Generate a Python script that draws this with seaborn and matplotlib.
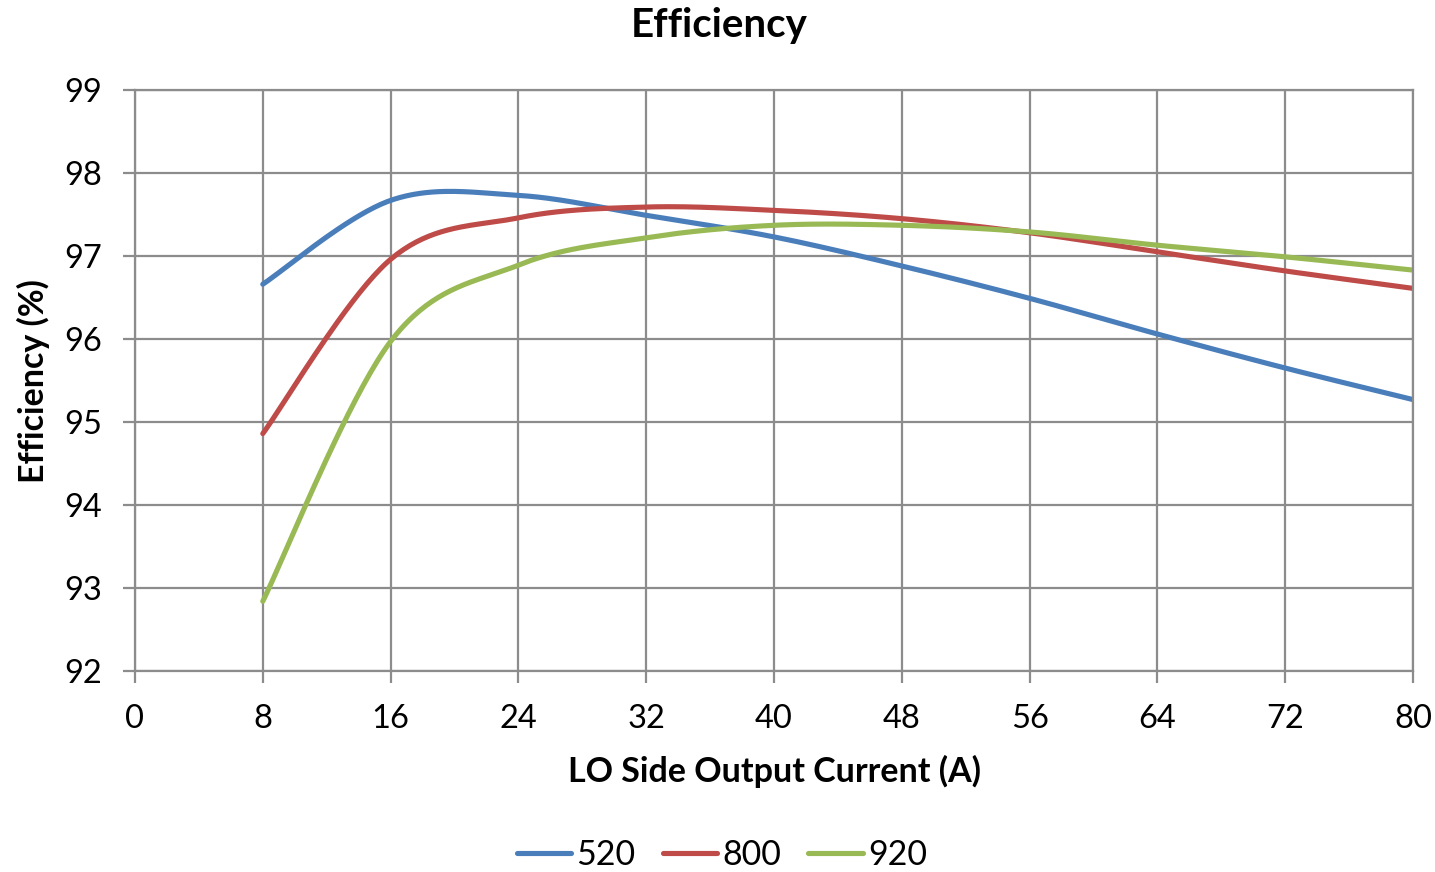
import numpy as np
import pandas as pd
import matplotlib
matplotlib.use("Agg")
import matplotlib.pyplot as plt
from matplotlib.lines import Line2D
import seaborn as sns

# ---- data ----
current = [8, 16, 24, 32, 40, 48, 56, 64, 72, 80]
eff_520 = [96.66, 97.67, 97.73, 97.49, 97.23, 96.88, 96.49, 96.06, 95.65, 95.27]
eff_800 = [94.86, 96.96, 97.46, 97.59, 97.55, 97.45, 97.28, 97.05, 96.82, 96.61]
eff_920 = [92.84, 95.97, 96.89, 97.22, 97.37, 97.37, 97.29, 97.13, 96.99, 96.83]
series_names = ["520", "800", "920"]
colors = ["#4A7EBB", "#BE4B48", "#98B954"]
x_ticks = [0, 8, 16, 24, 32, 40, 48, 56, 64, 72, 80]
y_ticks = [92, 93, 94, 95, 96, 97, 98, 99]


def smooth(xs, ys, n=40):
    """Excel-like smoothed line: cubic Bezier with Catmull-Rom control points."""
    P = np.column_stack([xs, ys]).astype(float)
    out = []
    m = len(P)
    for i in range(m - 1):
        p0 = P[i - 1] if i > 0 else P[i]
        p1 = P[i]
        p2 = P[i + 1]
        p3 = P[i + 2] if i + 2 < m else P[i + 1]
        c1 = p1 + (p2 - p0) / 6.0
        c2 = p2 - (p3 - p1) / 6.0
        t = np.linspace(0, 1, n, endpoint=(i == m - 2))[:, None]
        seg = ((1 - t) ** 3) * p1 + 3 * ((1 - t) ** 2) * t * c1 + 3 * (1 - t) * t ** 2 * c2 + t ** 3 * p2
        out.append(seg)
    return np.vstack(out)


frames = []
for name, ys in zip(series_names, [eff_520, eff_800, eff_920]):
    pts = smooth(current, ys)
    frames.append(pd.DataFrame({"x": pts[:, 0], "y": pts[:, 1], "series": name}))
df = pd.concat(frames, ignore_index=True)

sns.set_style("white")
plt.rcParams["font.family"] = ["Lato", "DejaVu Sans"]
plt.rcParams["text.color"] = "black"
plt.rcParams["axes.labelcolor"] = "black"

fig = plt.figure(figsize=(14.35, 8.72), dpi=100)
ax = fig.add_axes([135 / 1435, 1 - 671 / 872, (1413 - 135) / 1435, (671 - 90) / 872])

sns.lineplot(data=df, x="x", y="y", hue="series", palette=colors, sort=False,
             estimator=None, units="series", linewidth=3.7, ax=ax, legend=False)

ax.set_xlim(0, 80)
ax.set_ylim(92, 99)
ax.set_xticks(x_ticks)
ax.set_yticks(y_ticks)
ax.grid(True, color="#8C8C8C", linewidth=1.6)
ax.set_axisbelow(True)
for s in ax.spines.values():
    s.set_color("#8C8C8C")
    s.set_linewidth(1.6)
ax.tick_params(axis="both", which="both", direction="out", length=8.5, width=1.6,
               color="#8C8C8C", labelcolor="black", labelsize=23.5,
               bottom=True, left=True)
ax.tick_params(axis="y", pad=15)
ax.tick_params(axis="x", pad=15)

fig.text(719 / 1435, 1 - 26 / 872, "Efficiency", fontsize=29, fontweight="bold",
         ha="center", va="center")
ax.set_xlabel("LO Side Output Current (A)", fontsize=24.5, fontweight="bold")
ax.xaxis.set_label_coords((774 - 135) / 1278, -(771 - 671) / 581)
ax.xaxis.label.set_va("center")
ax.set_ylabel("Efficiency (%)", fontsize=24.5, fontweight="bold")
ax.yaxis.set_label_coords(-(135 - 33) / 1278, (671 - 381) / 581)
ax.yaxis.label.set_va("center")

handles = [Line2D([0], [0], color=c, lw=3.7, solid_capstyle="round") for c in colors]
fig.legend(handles, series_names, loc="center", bbox_to_anchor=(722 / 1435, 1 - 855 / 872),
           ncol=3, frameon=False, fontsize=24.5, handlelength=1.6, handletextpad=0.15,
           columnspacing=0.8)

fig.savefig("out.png", dpi=100)
